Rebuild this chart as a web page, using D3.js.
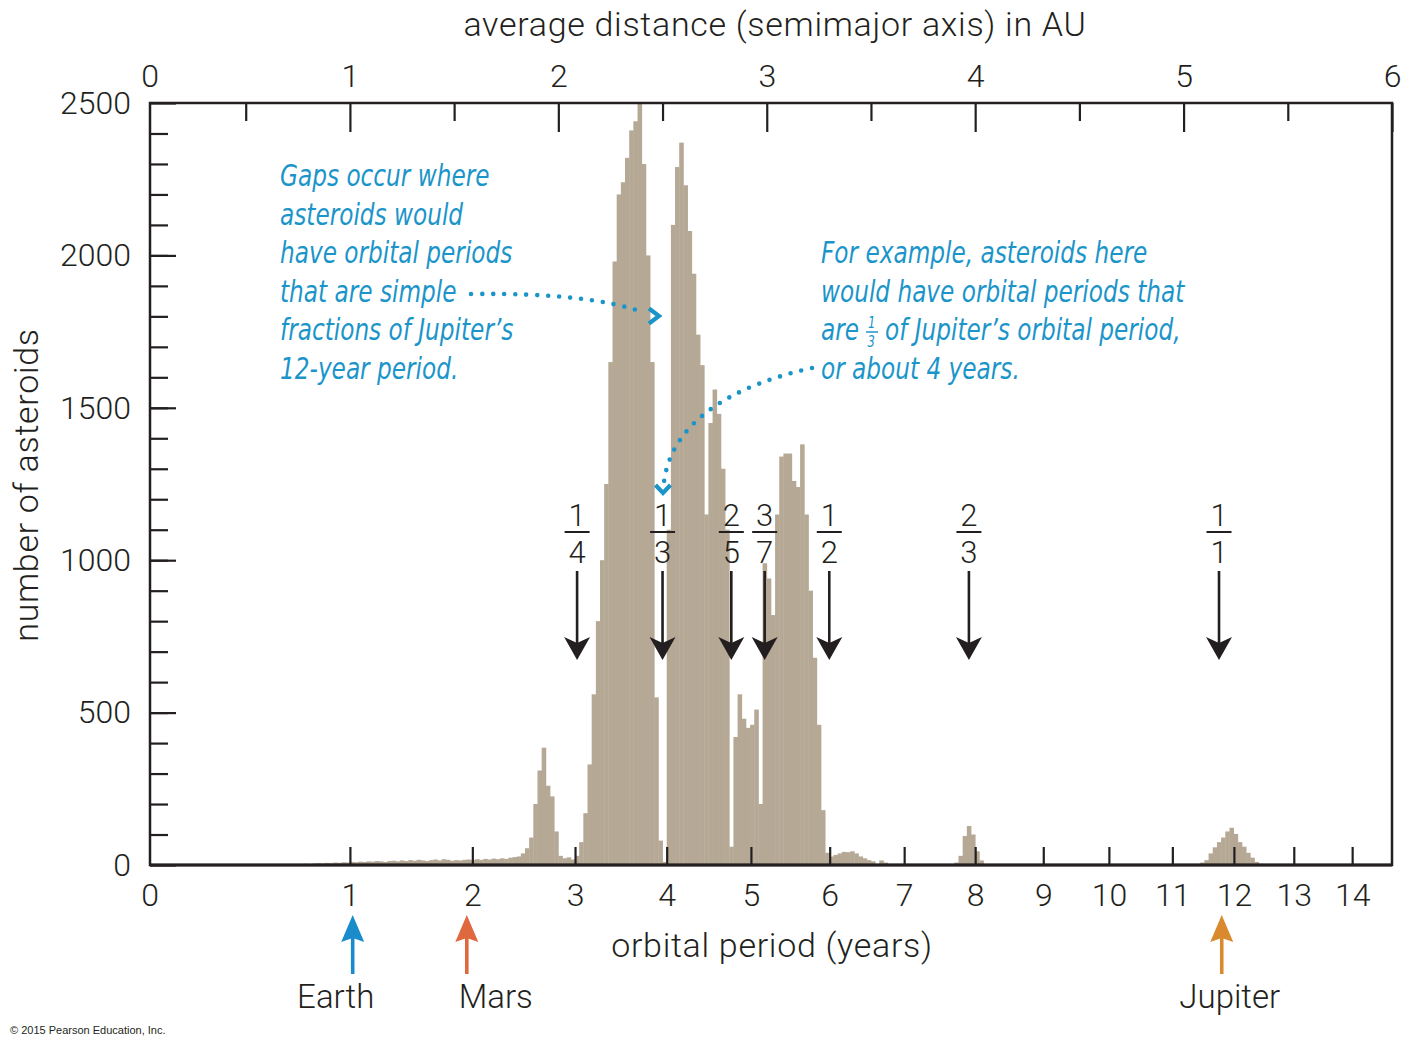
<!DOCTYPE html>
<html>
<head>
<meta charset="utf-8">
<script src="https://cdnjs.cloudflare.com/ajax/libs/d3/7.8.5/d3.min.js"></script>
<style>
  body { margin: 0; background: #fff; }
  .lbl { font-family: Roboto, "Liberation Sans", sans-serif; font-weight: 300; fill: #231f20; }
  .title { letter-spacing: 0.7px; }
  .note { font-family: "Liberation Sans Narrow", "DejaVu Sans Condensed", sans-serif; font-style: italic; fill: #1b95c9; }
</style>
</head>
<body>
<svg id="canvas" width="1411" height="1050"></svg>
<script>
// Data
let auTicks = [1, 2, 3, 4, 5, 6];
let auMinorTicks = [0.5, 1.5, 2.5, 3.5, 4.5, 5.5];
let periodTicks = [1, 2, 3, 4, 5, 6, 7, 8, 9, 10, 11, 12, 13, 14];
let countTicks = [0, 500, 1000, 1500, 2000, 2500];
let countMinorTicks = d3.range(100, 2500, 100);

let binWidth = 0.02; // AU
let beltStart = 0.76;
let beltCounts = [
  0, 4, 3, 5, 6, 5, 7, 6, 8, 7, 9, 8,                 // 0.76 - 0.98
  10, 9, 11, 10, 12, 11, 13, 12, 10, 13,              // 1.00 - 1.18
  14, 12, 15, 13, 16, 14, 17, 15, 13, 16,             // 1.20 - 1.38
  18, 15, 19, 17, 14, 16, 15, 17, 18, 16,             // 1.40 - 1.58
  19, 17, 20, 18, 21, 19, 22, 20, 24, 26,             // 1.60 - 1.78
  28, 38, 55, 90, 200, 310, 385, 260, 225, 110,       // 1.80 - 1.98
  30, 22, 25, 18, 30, 75, 170, 330, 560, 800,         // 2.00 - 2.18
  1000, 1250, 1650, 1980, 2200, 2240, 2320, 2410, 2440, 2500, // 2.20 - 2.38
  2300, 2000, 1650, 550, 80, 10, 1100, 2100, 2290, 2370,      // 2.40 - 2.58
  2230, 2080, 1940, 1740, 1640, 1150, 1450, 1560, 1480, 1300, // 2.60 - 2.78
  1100, 60, 420, 560, 480, 450, 460, 510, 200, 990,           // 2.80 - 2.98
  940, 820, 1150, 1340, 1350, 1350, 1260, 1240, 1380, 1150,   // 3.00 - 3.18
  900, 680, 460, 180, 40, 28, 33, 38, 43, 42,                 // 3.20 - 3.38
  45, 38, 28, 22, 16, 12, 3, 15, 8                            // 3.40 - 3.56
];
let hildaStart = 3.90;
let hildaCounts = [8, 30, 95, 128, 100, 45, 15, 3];
let trojanStart = 5.06;
let trojanCounts = [3, 8, 16, 38, 58, 75, 90, 110, 122, 102, 75, 60, 40, 24, 10, 4];

let resonanceAU = [2.09, 2.50, 2.83, 2.99, 3.30, 3.97, 5.17];
let resonanceNum = ["1", "1", "2", "3", "1", "2", "1"];
let resonanceDen = ["4", "3", "5", "7", "2", "3", "1"];

let planetNames = ["Earth", "Mars", "Jupiter"];
let planetPeriods = [1.02, 1.95, 11.8];
let planetColors = ["#1a8ccc", "#e0683f", "#d98a2e"];
let planetLabelDx = [-17, 29, 8];

let noteLeft = ["Gaps occur where", "asteroids would", "have orbital periods",
  "that are simple", "fractions of Jupiter\u2019s", "12-year period."];
let noteRight = ["For example, asteroids here", "would have orbital periods that",
  "", "or about 4 years."];

// Layout
let plotLeft = 150;
let plotRight = 1392;
let plotTop = 103;
let plotBottom = 865;
let ink = "#231f20";
let blue = "#1b95c9";
let noteSize = 30;
let squeeze = 0.86; // condensed look for the notes

let canvas = d3.select("#canvas");

let x = d3.scaleLinear().domain([0, 6]).range([141.5, plotRight]);
// orbital period P maps to semimajor axis P^(2/3)
let xPeriod = d3.scalePow().exponent(2 / 3).domain([0, Math.pow(6, 1.5)]).range([141.5, plotRight]);
let y = d3.scaleLinear().domain([0, 2500]).range([plotBottom, plotTop]);

let bins = [];
let addBins = (start, counts) => {
  counts.forEach((c, i) => bins.push({ a0: start + i * binWidth, count: c }));
};
addBins(beltStart, beltCounts);
addBins(hildaStart, hildaCounts);
addBins(trojanStart, trojanCounts);

// histogram
canvas.append("g")
  .selectAll("rect")
  .data(bins)
  .enter()
  .append("rect")
  .attr("x", (d) => x(d.a0))
  .attr("width", (d) => x(d.a0 + binWidth) - x(d.a0) + 0.4)
  .attr("y", (d) => y(d.count))
  .attr("height", (d) => y(0) - y(d.count))
  .attr("fill", "#b5a895");

let styleAxis = (g, size) => {
  g.select(".domain").remove();
  g.selectAll(".tick line").attr("stroke", ink).attr("stroke-width", 2.2);
  g.selectAll(".tick text").attr("class", "lbl").attr("font-size", size).attr("fill", ink);
  g.attr("font-family", null).attr("font-size", null);
};
let fmt = d3.format("d");

// top axis (AU)
canvas.append("g")
  .attr("transform", `translate(0,${plotTop})`)
  .call(d3.axisTop(x).tickValues(auMinorTicks).tickSize(-18).tickFormat(""))
  .call((g) => styleAxis(g, 32));
canvas.append("g")
  .attr("transform", `translate(0,${plotTop})`)
  .call(d3.axisTop(x).tickValues(auTicks).tickSize(-29).tickPadding(16).tickFormat(fmt))
  .call((g) => styleAxis(g, 32));

// left axis (counts)
canvas.append("g")
  .attr("transform", `translate(${plotLeft},0)`)
  .call(d3.axisLeft(y).tickValues(countMinorTicks).tickSize(-18).tickFormat(""))
  .call((g) => styleAxis(g, 32));
canvas.append("g")
  .attr("transform", `translate(${plotLeft},0)`)
  .call(d3.axisLeft(y).tickValues(countTicks).tickSize(-26).tickPadding(19).tickFormat(fmt))
  .call((g) => styleAxis(g, 32));

// bottom axis (period)
canvas.append("g")
  .attr("transform", `translate(0,${plotBottom})`)
  .call(d3.axisBottom(xPeriod).tickValues(periodTicks).tickSize(-18).tickPadding(18).tickFormat(fmt))
  .call((g) => styleAxis(g, 32));

// zero labels at the frame edge
canvas.append("text").attr("class", "lbl").attr("x", plotLeft).attr("y", plotTop - 16)
  .attr("text-anchor", "middle").attr("font-size", 32).text("0");
canvas.append("text").attr("class", "lbl").attr("x", plotLeft).attr("y", plotBottom + 18)
  .attr("dy", "0.71em").attr("text-anchor", "middle").attr("font-size", 32).text("0");

// frame
canvas.append("rect")
  .attr("x", plotLeft).attr("y", plotTop)
  .attr("width", plotRight - plotLeft).attr("height", plotBottom - plotTop)
  .attr("fill", "none").attr("stroke", ink).attr("stroke-width", 2.5);
canvas.append("line")
  .attr("x1", plotLeft).attr("x2", plotRight).attr("y1", plotBottom).attr("y2", plotBottom)
  .attr("stroke", ink).attr("stroke-width", 3.2);

// axis titles
canvas.append("text").attr("class", "lbl title").attr("x", 775).attr("y", 36)
  .attr("text-anchor", "middle").attr("font-size", 34)
  .text("average distance (semimajor axis) in AU");
canvas.append("text").attr("class", "lbl title").attr("x", 772).attr("y", 957)
  .attr("text-anchor", "middle").attr("font-size", 34)
  .text("orbital period (years)");
canvas.append("text").attr("class", "lbl title")
  .attr("transform", "translate(38,485) rotate(-90)")
  .attr("text-anchor", "middle").attr("font-size", 34)
  .text("number of asteroids");

// resonance arrows
let res = canvas.append("g")
  .selectAll("g")
  .data(resonanceAU)
  .enter()
  .append("g")
  .attr("transform", (d) => `translate(${x(d)},0)`);
res.append("text").attr("class", "lbl").attr("y", 525.5).attr("text-anchor", "middle")
  .attr("font-size", 31).text((d, i) => resonanceNum[i]);
res.append("line").attr("x1", -12.5).attr("x2", 12.5).attr("y1", 532).attr("y2", 532)
  .attr("stroke", ink).attr("stroke-width", 2);
res.append("text").attr("class", "lbl").attr("y", 563).attr("text-anchor", "middle")
  .attr("font-size", 31).text((d, i) => resonanceDen[i]);
res.append("line").attr("x1", 0).attr("x2", 0).attr("y1", 571).attr("y2", 645)
  .attr("stroke", ink).attr("stroke-width", 2.6);
res.append("path").attr("d", "M-13,637 L0,660 L13,637 L0,643 Z").attr("fill", ink);

// planet arrows
let pl = canvas.append("g")
  .selectAll("g")
  .data(planetPeriods)
  .enter()
  .append("g")
  .attr("transform", (d) => `translate(${xPeriod(d)},0)`);
pl.append("line").attr("x1", 0).attr("x2", 0).attr("y1", 974).attr("y2", 938)
  .attr("stroke", (d, i) => planetColors[i]).attr("stroke-width", 3.6);
pl.append("path").attr("d", "M-11.5,942 L0,915 L11.5,942 L0,938 Z")
  .attr("fill", (d, i) => planetColors[i]);
pl.append("text").attr("class", "lbl").attr("x", (d, i) => planetLabelDx[i]).attr("y", 1008)
  .attr("text-anchor", "middle").attr("font-size", 33).text((d, i) => planetNames[i]);

// notes (squeezed horizontally to look condensed)
let note = (str, nx, ny, size) => canvas.append("text")
  .attr("class", "note")
  .attr("transform", `translate(${nx},${ny}) scale(${squeeze},1)`)
  .attr("font-size", size || noteSize)
  .text(str);
noteLeft.forEach((d, i) => note(d, 280, 186 + i * 38.5));
noteRight.forEach((d, i) => { if (d) note(d, 821, 263 + i * 38.5); });

// third line of the right note has a stacked fraction
let are = note("are", 821, 340);
let fx = 821 + are.node().getComputedTextLength() * squeeze + 13;
note("1", fx - 4, 328, 15);
canvas.append("line").attr("x1", fx - 6).attr("x2", fx + 6).attr("y1", 332).attr("y2", 332)
  .attr("stroke", blue).attr("stroke-width", 1.5);
note("3", fx - 4.5, 347, 15);
note("of Jupiter\u2019s orbital period,", fx + 13, 340);

// dotted pointers
let dotted = (d) => canvas.append("path").attr("d", d).attr("fill", "none")
  .attr("stroke", blue).attr("stroke-width", 4.6).attr("stroke-linecap", "round")
  .attr("stroke-dasharray", "0 11");
dotted("M471,294 C555,293 610,300 645,313");
dotted("M812,368 C735,385 672,420 664,482");
let chevron = (d) => canvas.append("path").attr("d", d).attr("fill", "none")
  .attr("stroke", blue).attr("stroke-width", 4.2).attr("stroke-linejoin", "miter");
chevron("M649,308.5 L659,316 L649,323.5");
chevron("M655.5,485 L663,493 L670.5,485");

// credit
canvas.append("text").attr("x", 10).attr("y", 1034)
  .attr("font-family", "'Liberation Sans', Arial, sans-serif").attr("font-size", 11)
  .attr("fill", ink).text("\u00a9 2015 Pearson Education, Inc.");
</script>
</body>
</html>
